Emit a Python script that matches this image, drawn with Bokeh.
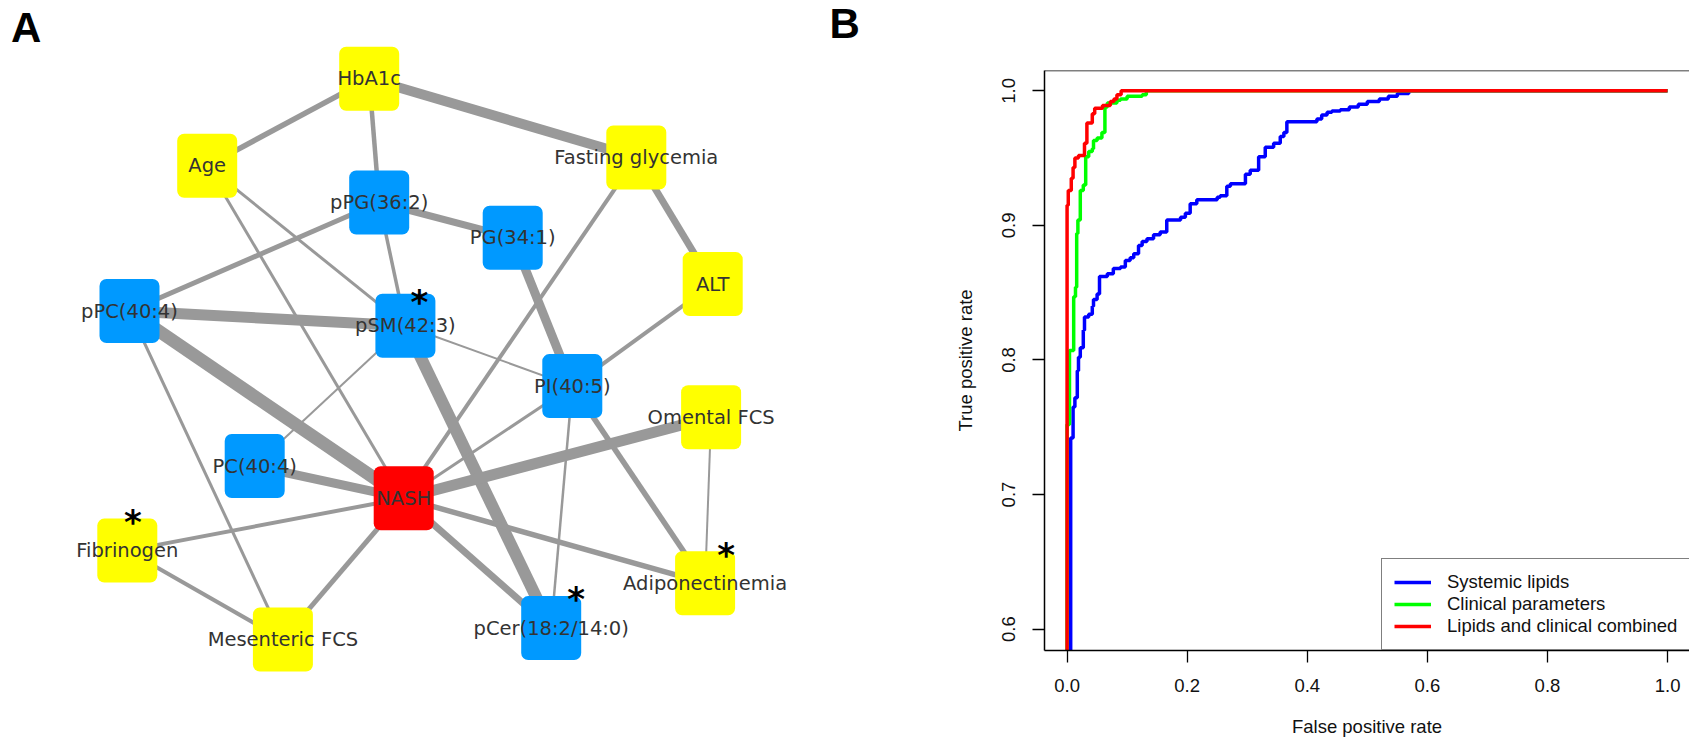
from bokeh.plotting import figure
from bokeh.models import Range1d, ColumnDataSource, FixedTicker, Span, Legend, LegendItem, NumeralTickFormatter
from bokeh.layouts import row, column
from bokeh.embed import file_html
from bokeh.resources import INLINE
from bokeh.core.properties import value

# ---------------- Panel A : network data ----------------
node_names = ["HbA1c", "Age", "Fasting glycemia", "pPG(36:2)", "PG(34:1)", "ALT",
              "pPC(40:4)", "pSM(42:3)", "PI(40:5)", "Omental FCS", "PC(40:4)", "NASH",
              "Fibrinogen", "Adiponectinemia", "pCer(18:2/14:0)", "Mesenteric FCS"]
node_kind = ["clinical", "clinical", "clinical", "lipid", "lipid", "clinical",
             "lipid", "lipid", "lipid", "clinical", "lipid", "outcome",
             "clinical", "clinical", "lipid", "clinical"]
node_star = ["pSM(42:3)", "Fibrinogen", "Adiponectinemia", "pCer(18:2/14:0)"]

edge_from = ["HbA1c", "HbA1c", "HbA1c", "Age", "Age", "Fasting glycemia", "Fasting glycemia",
             "pPG(36:2)", "pPG(36:2)", "pPG(36:2)", "PG(34:1)", "ALT", "pPC(40:4)", "pPC(40:4)",
             "pPC(40:4)", "pSM(42:3)", "pSM(42:3)", "pSM(42:3)", "PI(40:5)", "PI(40:5)", "PI(40:5)",
             "Omental FCS", "Omental FCS", "PC(40:4)", "NASH", "NASH", "NASH", "NASH", "Fibrinogen"]
edge_to = ["Age", "Fasting glycemia", "pPG(36:2)", "pSM(42:3)", "NASH", "ALT", "NASH",
           "PG(34:1)", "pSM(42:3)", "pPC(40:4)", "PI(40:5)", "PI(40:5)", "pSM(42:3)", "NASH",
           "Mesenteric FCS", "PI(40:5)", "PC(40:4)", "pCer(18:2/14:0)", "NASH", "pCer(18:2/14:0)",
           "Adiponectinemia", "NASH", "Adiponectinemia", "NASH", "Fibrinogen", "Mesenteric FCS",
           "pCer(18:2/14:0)", "Adiponectinemia", "Mesenteric FCS"]
edge_weight = [5.5, 10, 4.5, 3, 3, 7, 4, 7, 3.5, 5, 9, 4, 11, 13, 3, 2, 2, 12, 3, 2.5, 5.5,
               11, 2, 9, 4, 5, 7, 5.5, 4]

# ---------------- Panel B : ROC data ----------------
lipid_fpr = [0.0, 0.006, 0.010, 0.013, 0.017, 0.019, 0.022, 0.027, 0.029, 0.036, 0.042, 0.044,
             0.050, 0.054, 0.067, 0.077, 0.089, 0.097, 0.105, 0.111, 0.119, 0.125, 0.133, 0.144,
             0.155, 0.166, 0.189, 0.197, 0.205, 0.216, 0.250, 0.255, 0.266, 0.272, 0.297, 0.305,
             0.319, 0.330, 0.344, 0.355, 0.361, 0.366, 0.416, 0.424, 0.433, 0.441, 0.455, 0.470,
             0.485, 0.500, 0.520, 0.535, 0.550, 0.569, 1.0]
lipid_tpr = [0.0, 0.742, 0.765, 0.772, 0.792, 0.802, 0.809, 0.822, 0.832, 0.834, 0.840, 0.845,
             0.849, 0.862, 0.864, 0.868, 0.869, 0.874, 0.876, 0.879, 0.885, 0.888, 0.890, 0.893,
             0.895, 0.904, 0.906, 0.909, 0.916, 0.919, 0.921, 0.922, 0.929, 0.931, 0.938, 0.941,
             0.951, 0.958, 0.961, 0.966, 0.969, 0.977, 0.979, 0.982, 0.984, 0.985, 0.986, 0.988,
             0.990, 0.992, 0.994, 0.996, 0.998, 1.0, 1.0]
clin_fpr = [0.0, 0.0, 0.004, 0.011, 0.014, 0.016, 0.018, 0.022, 0.027, 0.031, 0.036, 0.042,
            0.044, 0.050, 0.058, 0.063, 0.067, 0.083, 0.089, 0.100, 0.125, 0.132, 1.0]
clin_tpr = [0.0, 0.752, 0.807, 0.847, 0.854, 0.894, 0.904, 0.926, 0.930, 0.951, 0.955, 0.957,
            0.963, 0.965, 0.969, 0.988, 0.991, 0.993, 0.994, 0.996, 0.997, 1.0, 1.0]
comb_fpr = [0.0, 0.0, 0.002, 0.007, 0.010, 0.013, 0.019, 0.029, 0.033, 0.042, 0.046, 0.059,
            0.072, 0.078, 0.083, 0.090, 1.0]
comb_tpr = [0.0, 0.915, 0.926, 0.935, 0.943, 0.950, 0.952, 0.961, 0.976, 0.983, 0.987, 0.989,
            0.992, 0.994, 0.997, 1.0, 1.0]
series_names = ["Systemic lipids", "Clinical parameters", "Lipids and clinical combined"]
x_ticks = [0.0, 0.2, 0.4, 0.6, 0.8, 1.0]
y_ticks = [0.6, 0.7, 0.8, 0.9, 1.0]

# ---------------- layout / style ----------------
# network drawing positions (pixel layout of the graph)
layout_x = [368.7, 206.7, 635.8, 378.7, 512.2, 712.2, 129.0, 404.9, 571.8, 710.6, 254.2, 403.2,
            126.8, 704.6, 550.7, 282.4]
layout_y = [78.3, 165.3, 157.0, 202.0, 237.2, 283.6, 310.5, 325.2, 385.6, 416.8, 465.5, 497.7,
            550.1, 582.7, 627.6, 639.0]
star_offset = {"pSM(42:3)": (14, -24), "Fibrinogen": (5.5, -28.5),
               "Adiponectinemia": (21, -28.5), "pCer(18:2/14:0)": (25, -29)}
kind_color = {"clinical": "#FFFF00", "lipid": "#0099FF", "outcome": "#FF0000"}
EDGE_COLOR = "#999999"
LABEL_FONT = "DejaVu Sans"
R_FONT = "Liberation Sans"
W_A, W_B, H = 940, 749, 741

pos = {n: (x, y) for n, x, y in zip(node_names, layout_x, layout_y)}

pA = figure(width=W_A, height=H, x_range=Range1d(0, W_A), y_range=Range1d(H, 0),
            output_backend="svg", toolbar_location=None, min_border=0,
            x_axis_location=None, y_axis_location=None)
pA.outline_line_color = None
pA.grid.visible = False
pA.background_fill_color = "white"
pA.border_fill_color = "white"

edge_src = ColumnDataSource(dict(
    x0=[pos[a][0] for a in edge_from], y0=[pos[a][1] for a in edge_from],
    x1=[pos[b][0] for b in edge_to], y1=[pos[b][1] for b in edge_to],
    w=edge_weight))
pA.segment(x0="x0", y0="y0", x1="x1", y1="y1", line_width="w", line_color=EDGE_COLOR,
           source=edge_src)

node_src = ColumnDataSource(dict(x=layout_x, y=layout_y, name=node_names,
                                 color=[kind_color[k] for k in node_kind]))
pA.rect(x="x", y="y", width=60, height=64, fill_color="color", line_color=None,
        border_radius=7, source=node_src)
pA.text(x="x", y="y", text="name", source=node_src, text_align="center",
        text_baseline="middle", text_font=value(LABEL_FONT), text_font_size="19.5px",
        text_color="#333333")

star_src = ColumnDataSource(dict(
    x=[pos[n][0] + star_offset[n][0] for n in node_star],
    y=[pos[n][1] + star_offset[n][1] for n in node_star],
    t=["*"] * len(node_star)))
pA.text(x="x", y="y", text="t", source=star_src, text_align="center",
        text_baseline="alphabetic", text_font=value(LABEL_FONT), text_font_style="bold",
        text_font_size="34px", text_color="black")

panel_src = ColumnDataSource(dict(x=[10.5, 829], y=[26.7, 22.5], t=["A", "B"]))
pA.text(x="x", y="y", text="t", source=panel_src, text_align="left",
        text_baseline="alphabetic", text_font=value(R_FONT), text_font_style="bold",
        text_font_size="42px", text_color="black")

# ---------------- Panel B ----------------
pB = figure(width=W_B, height=H, x_range=Range1d(-0.0376, 1.0365),
            y_range=Range1d(0.5841, 1.0151), output_backend="svg", toolbar_location=None,
            min_border_left=104, min_border_right=0, min_border_top=70, min_border_bottom=91)
pB.grid.visible = False
pB.outline_line_color = None
pB.background_fill_color = "white"
pB.border_fill_color = "white"

colors = ["#0000FF", "#00FF00", "#FF0000"]
renderers = []
for fx, ty, c in zip([lipid_fpr, clin_fpr, comb_fpr], [lipid_tpr, clin_tpr, comb_tpr], colors):
    r = pB.step(fx, ty, mode="after", line_color=c, line_width=3.5)
    renderers.append(r)

for ax in (pB.xaxis[0], pB.yaxis[0]):
    ax.axis_line_color = "black"
    ax.axis_line_width = 1.5
    ax.major_tick_line_color = "black"
    ax.major_tick_line_width = 1.3
    ax.major_tick_out = 12
    ax.major_tick_in = 0
    ax.minor_tick_line_color = None
    ax.major_label_text_font = R_FONT
    ax.major_label_text_font_size = "18.5px"
    ax.major_label_text_color = "#111111"
    ax.axis_label_text_font = R_FONT
    ax.axis_label_text_font_size = "18.5px"
    ax.axis_label_text_font_style = "normal"
    ax.axis_label_text_color = "#111111"
    ax.formatter = NumeralTickFormatter(format="0.0")

pB.xaxis.ticker = FixedTicker(ticks=x_ticks)
pB.yaxis.ticker = FixedTicker(ticks=y_ticks)
pB.xaxis.axis_label = "False positive rate"
pB.yaxis.axis_label = "True positive rate"
pB.yaxis.major_label_orientation = "vertical"
pB.xaxis.major_label_standoff = 16
pB.xaxis.axis_label_standoff = 21
pB.yaxis.major_label_standoff = 17
pB.yaxis.axis_label_standoff = 24

pB.add_layout(Span(location=1.0151, dimension="width", line_color="black", line_width=1.5))

legend = Legend(items=[LegendItem(label=n, renderers=[r]) for n, r in zip(series_names, renderers)],
                location=(337, 0), orientation="vertical")
legend.border_line_color = "black"
legend.border_line_width = 1.5
legend.background_fill_color = "white"
legend.background_fill_alpha = 1.0
legend.label_text_font = R_FONT
legend.label_text_font_size = "18.5px"
legend.label_text_color = "#111111"
legend.glyph_width = 37
legend.glyph_height = 22
legend.label_height = 22
legend.label_standoff = 16
legend.padding = 12
legend.spacing = 0
legend.margin = 0
pB.add_layout(legend)

layout = row(column(pA), column(pB))
open("out.html", "w").write(file_html(layout, INLINE))
